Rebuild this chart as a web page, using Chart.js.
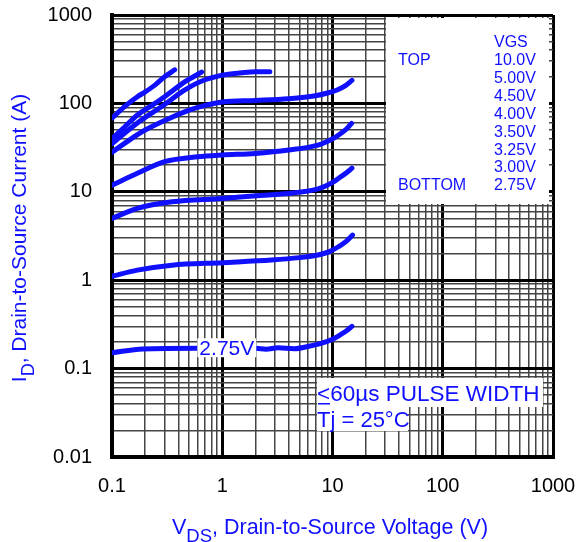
<!DOCTYPE html>
<html>
<head>
<meta charset="utf-8">
<script src="https://cdn.jsdelivr.net/npm/chart.js@4.4.0/dist/chart.umd.min.js"></script>
<style>
  body { margin: 0; background: #fff; }
</style>
</head>
<body>
<canvas id="chart" width="580" height="542"></canvas>
<script>
// typical output characteristics, one curve per VGS
const vgsLabels = ['10.0V', '5.00V', '4.50V', '4.00V', '3.50V', '3.25V', '3.00V', '2.75V'];

const vds10V = [0.1, 0.13, 0.17, 0.2, 0.245, 0.3, 0.37];
const id10V = [68, 92, 119, 135, 161, 200, 240];

const vds5V = [0.1, 0.13, 0.17, 0.23, 0.3, 0.46, 0.65];
const id5V = [40, 54, 74, 95, 119, 176, 226];

const vds4V5 = [0.1, 0.17, 0.3, 0.45, 0.63, 1.0, 1.5, 2.0, 2.7];
const id4V5 = [35, 60, 97, 140, 176, 209, 222, 228, 228];

const vds4V = [0.1, 0.15, 0.2, 0.3, 0.5, 0.7, 1, 2, 4, 7, 9, 11, 13, 15];
const id4V = [28, 40, 50, 64, 84, 95, 104, 108, 113, 122, 131, 142, 158, 182];

const vds3V5 = [0.1, 0.17, 0.3, 0.6, 1, 2, 4, 7.4, 8.85, 10.3, 11.7, 13.3, 14.9];
const id3V5 = [11.9, 16.2, 21.9, 24.9, 26.1, 27.2, 29.7, 33.8, 36.9, 40.5, 45, 51, 59.5];

const vds3V25 = [0.1, 0.17, 0.35, 1, 2.2, 4.4, 7.4, 8.85, 10.3, 11.7, 13.3, 15];
const id3V25 = [5.0, 6.5, 7.7, 8.4, 9.1, 9.7, 10.8, 11.8, 13, 14.6, 16.3, 18.5];

const vds3V = [0.1, 0.17, 0.35, 1, 2.8, 5, 7.4, 9.5, 11.3, 13.3, 15.2];
const id3V = [1.11, 1.30, 1.48, 1.58, 1.69, 1.80, 1.93, 2.12, 2.39, 2.75, 3.24];

const vds2V75 = [0.1, 0.19, 0.6, 1.2, 2.0, 2.5, 3.2, 4.5, 6, 7.6, 10, 12, 13.5, 15];
const id2V75 = [0.151, 0.167, 0.170, 0.170, 0.170, 0.166, 0.172, 0.168, 0.178, 0.19, 0.215, 0.245, 0.27, 0.30];

const xTickLabels = ['0.1', '1', '10', '100', '1000'];
const yTickLabels = ['0.01', '0.1', '1', '10', '100', '1000'];

const BLUE = '#1010ff';
const FONT = '"Liberation Sans", Arial, Helvetica, sans-serif';

function pts(xs, ys) {
  return xs.map((x, i) => ({ x: x, y: ys[i] }));
}

const curves = [
  [vds10V, id10V], [vds5V, id5V], [vds4V5, id4V5], [vds4V, id4V],
  [vds3V5, id3V5], [vds3V25, id3V25], [vds3V, id3V], [vds2V75, id2V75]
];

function isDecade(v) {
  const e = Math.log10(v);
  return Math.abs(e - Math.round(e)) < 1e-6;
}

// 1..9 ticks in every decade
function logTicks(scale) {
  const out = [];
  const e0 = Math.round(Math.log10(scale.min));
  const e1 = Math.round(Math.log10(scale.max));
  for (let e = e0; e < e1; e++) {
    for (let m = 1; m <= 9; m++) out.push({ value: m * Math.pow(10, e) });
  }
  out.push({ value: scale.max });
  scale.ticks = out;
}

const gridOpts = {
  color: (c) => isDecade(c.tick.value) ? '#000' : '#444',
  lineWidth: (c) => isDecade(c.tick.value) ? 3 : 1.5,
  drawTicks: false
};

// text with a subscript part
function drawParts(ctx, parts) {
  let w = 0;
  parts.forEach(p => { ctx.font = p.size + 'px ' + FONT; p.w = ctx.measureText(p.t).width; w += p.w; });
  let x = -w / 2;
  parts.forEach(p => {
    ctx.font = p.size + 'px ' + FONT;
    ctx.fillText(p.t, x, p.dy);
    x += p.w;
  });
}

const decorations = {
  id: 'decorations',
  afterDatasetsDraw(chart) {
    const ctx = chart.ctx;
    const xs = chart.scales.x, ys = chart.scales.y;
    ctx.save();

    // legend box
    ctx.fillStyle = '#fff';
    ctx.fillRect(386, 18, 163, 186);
    ctx.fillStyle = BLUE;
    ctx.textAlign = 'left';
    ctx.textBaseline = 'alphabetic';
    ctx.font = '16px ' + FONT;
    ctx.fillText('VGS', 494, 47);
    ctx.fillText('TOP', 398, 65);
    ctx.fillText('BOTTOM', 398, 190);
    vgsLabels.forEach((t, i) => ctx.fillText(t, 494, 65 + i * 17.9));

    // 2.75V curve label
    ctx.font = '21px ' + FONT;
    const lx = xs.getPixelForValue(1.1), ly = ys.getPixelForValue(0.17);
    const lw = ctx.measureText('2.75V').width;
    ctx.fillStyle = '#fff';
    ctx.fillRect(lx - lw / 2 - 2, ly - 10, lw + 4, 19);
    ctx.fillStyle = BLUE;
    ctx.textAlign = 'center';
    ctx.fillText('2.75V', lx, ly + 7);

    // pulse width note
    ctx.textAlign = 'left';
    ctx.fillStyle = '#fff';
    ctx.fillRect(317, 378, 226, 29);
    ctx.fillRect(317, 407, 91, 24);
    ctx.fillStyle = BLUE;
    ctx.font = '22.5px ' + FONT;
    ctx.fillText('<60\u00b5s PULSE WIDTH', 317, 401);
    ctx.fillRect(318, 403, 12, 1.5);
    ctx.font = '22px ' + FONT;
    ctx.fillText('Tj = 25\u00b0C', 317, 427);

    // axis titles
    ctx.save();
    ctx.translate(330, 534);
    drawParts(ctx, [
      { t: 'V', size: 21.5, dy: 0 },
      { t: 'DS', size: 18.5, dy: 8 },
      { t: ', Drain-to-Source Voltage (V)', size: 21.5, dy: 0 }
    ]);
    ctx.restore();
    ctx.save();
    ctx.translate(26, 238);
    ctx.rotate(-Math.PI / 2);
    drawParts(ctx, [
      { t: 'I', size: 21, dy: 0 },
      { t: 'D', size: 18, dy: 8 },
      { t: ', Drain-to-Source Current (A)', size: 21, dy: 0 }
    ]);
    ctx.restore();

    ctx.restore();
  }
};

new Chart(document.getElementById('chart'), {
  type: 'scatter',
  data: {
    datasets: curves.map((c, i) => ({
      label: vgsLabels[i],
      data: pts(c[0], c[1]),
      showLine: true,
      borderColor: BLUE,
      backgroundColor: BLUE,
      borderWidth: 5,
      pointRadius: 0,
      cubicInterpolationMode: 'monotone',
      borderCapStyle: 'round',
      borderJoinStyle: 'round'
    }))
  },
  options: {
    responsive: false,
    animation: false,
    layout: { padding: 0 },
    plugins: { legend: { display: false }, tooltip: { enabled: false } },
    scales: {
      x: {
        type: 'logarithmic',
        min: 0.1,
        max: 1000,
        afterBuildTicks: logTicks,
        afterFit: (s) => { s.height = 85; s.paddingLeft = 0; s.paddingRight = 27; },
        grid: gridOpts,
        border: { display: true, color: '#000', width: 4 },
        ticks: {
          autoSkip: false,
          maxRotation: 0,
          padding: 17,
          color: '#000',
          font: { family: FONT, size: 20 },
          callback: (v) => isDecade(v) ? xTickLabels[Math.round(Math.log10(v)) + 1] : ''
        }
      },
      y: {
        type: 'logarithmic',
        min: 0.01,
        max: 1000,
        afterBuildTicks: logTicks,
        afterFit: (s) => { s.width = 112; s.paddingTop = 15; s.paddingBottom = 0; },
        grid: gridOpts,
        border: { display: true, color: '#000', width: 4 },
        ticks: {
          autoSkip: false,
          padding: 20,
          color: '#000',
          font: { family: FONT, size: 20 },
          callback: (v) => isDecade(v) ? yTickLabels[Math.round(Math.log10(v)) + 2] : ''
        }
      }
    }
  },
  plugins: [decorations]
});
</script>
</body>
</html>
